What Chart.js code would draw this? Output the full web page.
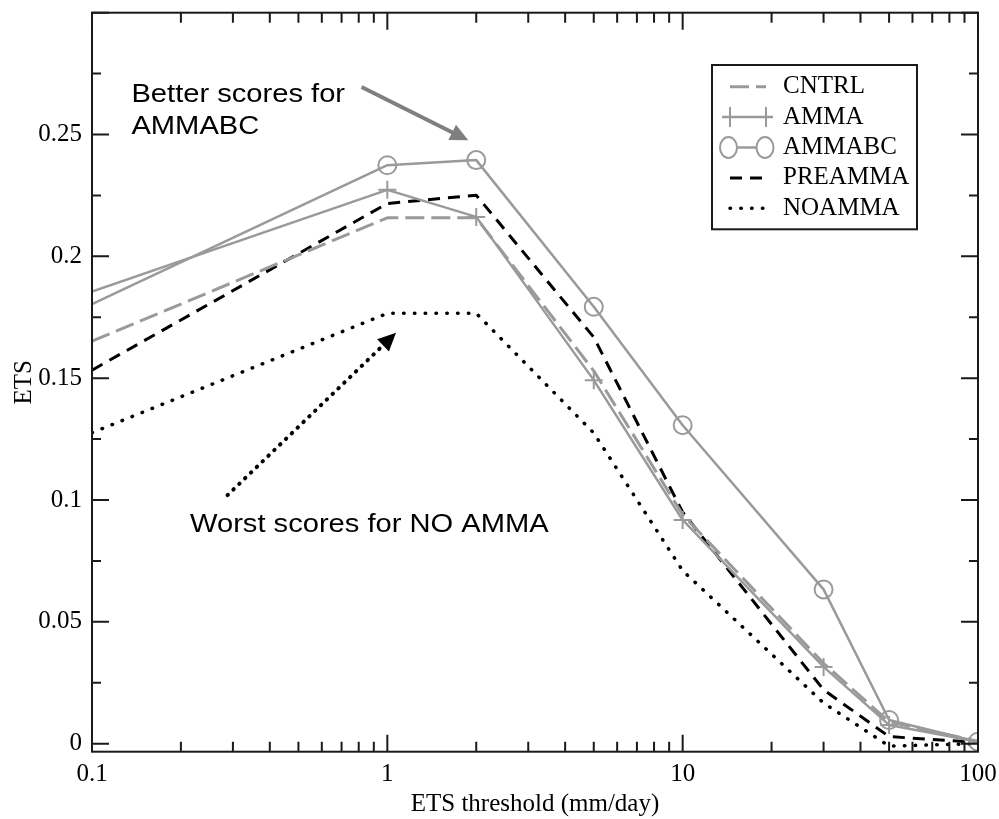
<!DOCTYPE html>
<html><head><meta charset="utf-8">
<script src="https://cdn.jsdelivr.net/npm/chart.js@4.4.1/dist/chart.umd.min.js"></script>
<style>html,body{margin:0;padding:0;background:#fff}#wrap{width:999px;height:819px}</style>
</head><body><div id="wrap"><canvas id="c" width="999" height="819"></canvas></div>
<script>
// ---- data ----
const thresholds = [0.1, 1, 2, 5, 10, 30, 50, 100];
const seriesNames = ['CNTRL', 'AMMA', 'AMMABC', 'PREAMMA', 'NOAMMA'];
const cntrl   = [0.1652, 0.2158, 0.2158, 0.1530, 0.0940, 0.0330, 0.0090, 0.0010];
const amma    = [0.1855, 0.2273, 0.2162, 0.1492, 0.0918, 0.0315, 0.0077, 0.0008];
const ammabc  = [0.1804, 0.2374, 0.2395, 0.1793, 0.1307, 0.0633, 0.0097, 0.0008];
const preamma = [0.1533, 0.2217, 0.2251, 0.1668, 0.0950, 0.0221, 0.0029, 0.0005];
const noamma  = [0.1276, 0.1766, 0.1766, 0.1275, 0.0710, 0.0167, -0.0010, 0.0000];
const xMajorTicks = [0.1, 1, 10, 100];
const xMinorTicks = [0.2, 0.3, 0.4, 0.5, 0.6, 0.7, 0.8, 0.9, 2, 3, 4, 5, 6, 7, 8, 9, 20, 30, 40, 50, 60, 70, 80, 90];
const yLabelTicks = [0, 0.05, 0.1, 0.15, 0.2, 0.25];
const yMajorTicks = [0, 0.05, 0.1, 0.15, 0.2, 0.25, 0.3];
const yMinorTicks = [0.025, 0.075, 0.125, 0.175, 0.225, 0.275];
const xTitle = 'ETS threshold (mm/day)';
const yTitle = 'ETS';
// annotations (data coordinates)
const noteTexts = [
  {text: 'Better scores for', x: 0.136, y: 0.2634},
  {text: 'AMMABC', x: 0.136, y: 0.2504},
  {text: 'Worst scores for NO AMMA', x: 0.2147, y: 0.0869}
];
const arrows = [
  {x0: 0.818, y0: 0.2695, x1: 1.88, y1: 0.2476, kind: 'gray'},
  {x0: 0.2877, y0: 0.102, x1: 1.07, y1: 0.1686, kind: 'dots'}
];

const GRAY = '#9a9a9a';
const pts = arr => thresholds.map((x, i) => ({x: x, y: arr[i]}));
const hideFirst = r => thresholds.map((_, i) => i === 0 ? 0 : r);

const datasets = [
  {label: seriesNames[0], data: pts(cntrl), borderColor: GRAY, borderWidth: 3, borderDash: [19, 7], pointRadius: 0},
  {label: seriesNames[1], data: pts(amma), borderColor: GRAY, borderWidth: 2.5, pointStyle: 'cross', pointRadius: hideFirst(9), pointBorderColor: GRAY, pointBorderWidth: 2},
  {label: seriesNames[2], data: pts(ammabc), borderColor: GRAY, borderWidth: 2.5, pointStyle: 'circle', pointRadius: hideFirst(9), pointBorderColor: GRAY, pointBackgroundColor: 'rgba(0,0,0,0)', pointBorderWidth: 2},
  {label: seriesNames[3], data: pts(preamma), borderColor: '#000', borderWidth: 3, borderDash: [12, 8], pointRadius: 0},
  {label: seriesNames[4], data: pts(noamma), borderColor: '#000', borderWidth: 3.5, borderDash: [0.5, 10.3], borderCapStyle: 'round', pointRadius: 0}
];

const serif = 'Liberation Serif';

const decor = {
  id: 'decor',
  afterDraw(chart) {
    const ctx = chart.ctx, ca = chart.chartArea;
    const xs = chart.scales.x, ys = chart.scales.y;
    ctx.save();
    // frame
    ctx.strokeStyle = '#1a1a1a'; ctx.lineWidth = 2;
    ctx.strokeRect(ca.left, ca.top, ca.right - ca.left, ca.bottom - ca.top);
    ctx.lineWidth = 2;
    ctx.beginPath();
    const xt = (v, len) => { const p = xs.getPixelForValue(v);
      ctx.moveTo(p, ca.bottom); ctx.lineTo(p, ca.bottom - len);
      ctx.moveTo(p, ca.top); ctx.lineTo(p, ca.top + len); };
    const yt = (v, len) => { const p = ys.getPixelForValue(v);
      ctx.moveTo(ca.left, p); ctx.lineTo(ca.left + len, p);
      ctx.moveTo(ca.right, p); ctx.lineTo(ca.right - len, p); };
    xMajorTicks.forEach(v => xt(v, 17));
    xMinorTicks.forEach(v => xt(v, 10));
    yMajorTicks.forEach(v => yt(v, 17));
    yMinorTicks.forEach(v => yt(v, 9));
    ctx.stroke();

    // legend
    const lx = ca.right - 266, ly = ca.top + 52.3;
    ctx.strokeStyle = '#1a1a1a'; ctx.lineWidth = 2;
    ctx.strokeRect(lx, ly, 205, 164.3);
    chart.data.datasets.forEach((ds, i) => {
      const cy = ly + 21.7 + i * 30.4;
      ctx.save();
      ctx.strokeStyle = ds.borderColor; ctx.lineWidth = ds.borderWidth;
      ctx.setLineDash(ds.borderDash || []);
      ctx.lineCap = ds.borderCapStyle || 'butt';
      ctx.beginPath();
      if (ds.pointStyle === 'cross') { ctx.moveTo(lx + 10, cy); ctx.lineTo(lx + 61, cy); }
      else if (ds.pointStyle === 'circle') { ctx.moveTo(lx + 25.5, cy); ctx.lineTo(lx + 44, cy); }
      else { ctx.moveTo(lx + 18, cy); ctx.lineTo(lx + 54, cy); }
      ctx.stroke();
      ctx.setLineDash([]);
      ctx.lineWidth = 2;
      if (ds.pointStyle === 'cross') {
        [lx + 18, lx + 54].forEach(px => { ctx.beginPath(); ctx.moveTo(px, cy - 10); ctx.lineTo(px, cy + 10); ctx.stroke(); });
      } else if (ds.pointStyle === 'circle') {
        [lx + 16.5, lx + 53].forEach(px => { ctx.beginPath(); ctx.ellipse(px, cy, 8.5, 10.5, 0, 0, Math.PI * 2); ctx.stroke(); });
      }
      ctx.restore();
      ctx.fillStyle = '#000';
      ctx.font = '25px "' + serif + '"';
      ctx.textBaseline = 'middle'; ctx.textAlign = 'left';
      ctx.fillText(ds.label, lx + 71, cy);
    });

    // annotation texts
    ctx.fillStyle = '#000';
    ctx.font = '26px "Liberation Sans"';
    ctx.textBaseline = 'alphabetic'; ctx.textAlign = 'left';
    noteTexts.forEach(n => {
      ctx.save();
      ctx.translate(xs.getPixelForValue(n.x), ys.getPixelForValue(n.y));
      ctx.scale(1.12, 1);
      ctx.fillText(n.text, 0, 0);
      ctx.restore();
    });

    // arrows
    arrows.forEach(a => {
      const x0 = xs.getPixelForValue(a.x0), y0 = ys.getPixelForValue(a.y0);
      const x1 = xs.getPixelForValue(a.x1), y1 = ys.getPixelForValue(a.y1);
      const ang = Math.atan2(y1 - y0, x1 - x0);
      const hl = 18, hw = 8.5;
      const bx = x1 - hl * Math.cos(ang), by = y1 - hl * Math.sin(ang);
      const col = a.kind === 'gray' ? '#7f7f7f' : '#000';
      ctx.save();
      ctx.strokeStyle = col; ctx.fillStyle = col;
      if (a.kind === 'gray') { ctx.lineWidth = 4; ctx.lineCap = 'butt'; ctx.setLineDash([]); }
      else { ctx.lineWidth = 4; ctx.lineCap = 'round'; ctx.setLineDash([0.5, 7.6]); }
      ctx.beginPath(); ctx.moveTo(x0, y0); ctx.lineTo(bx + 2 * Math.cos(ang), by + 2 * Math.sin(ang)); ctx.stroke();
      ctx.setLineDash([]);
      ctx.beginPath();
      ctx.moveTo(x1, y1);
      ctx.lineTo(bx + hw * Math.sin(ang), by - hw * Math.cos(ang));
      ctx.lineTo(bx - hw * Math.sin(ang), by + hw * Math.cos(ang));
      ctx.closePath(); ctx.fill();
      ctx.restore();
    });
    ctx.restore();
  }
};

new Chart(document.getElementById('c'), {
  type: 'line',
  data: {datasets: datasets},
  options: {
    responsive: false, animation: false, devicePixelRatio: 1,
    layout: {padding: {top: 12.7, right: 21, left: 0, bottom: 0}},
    plugins: {legend: {display: false}, tooltip: {enabled: false}},
    elements: {line: {tension: 0, borderJoinStyle: 'round'}},
    scales: {
      x: {
        type: 'logarithmic', min: 0.1, max: 100, position: 'bottom',
        grid: {display: false, drawTicks: false}, border: {display: false},
        ticks: {font: {family: serif, size: 25}, color: '#000', padding: 8, maxRotation: 0, autoSkip: false,
                callback: v => String(v)},
        title: {display: true, text: xTitle, font: {family: serif, size: 25}, color: '#000', padding: {top: 0, bottom: 0}},
        afterBuildTicks: s => { s.ticks = xMajorTicks.map(v => ({value: v})); },
        afterFit: s => { s.height = 67.3; s.paddingLeft = 0; s.paddingRight = 0; }
      },
      y: {
        min: -0.0033, max: 0.3,
        grid: {display: false, drawTicks: false}, border: {display: false},
        ticks: {font: {family: serif, size: 25}, color: '#000', padding: 10, autoSkip: false,
                callback: v => String(v)},
        title: {display: true, text: yTitle, font: {family: serif, size: 25}, color: '#000', padding: {top: 9, bottom: 0}},
        afterBuildTicks: s => { s.ticks = yLabelTicks.map(v => ({value: v})); },
        afterFit: s => { s.width = 92; s.paddingTop = 0; s.paddingBottom = 0; }
      }
    }
  },
  plugins: [decor]
});
</script></body></html>
